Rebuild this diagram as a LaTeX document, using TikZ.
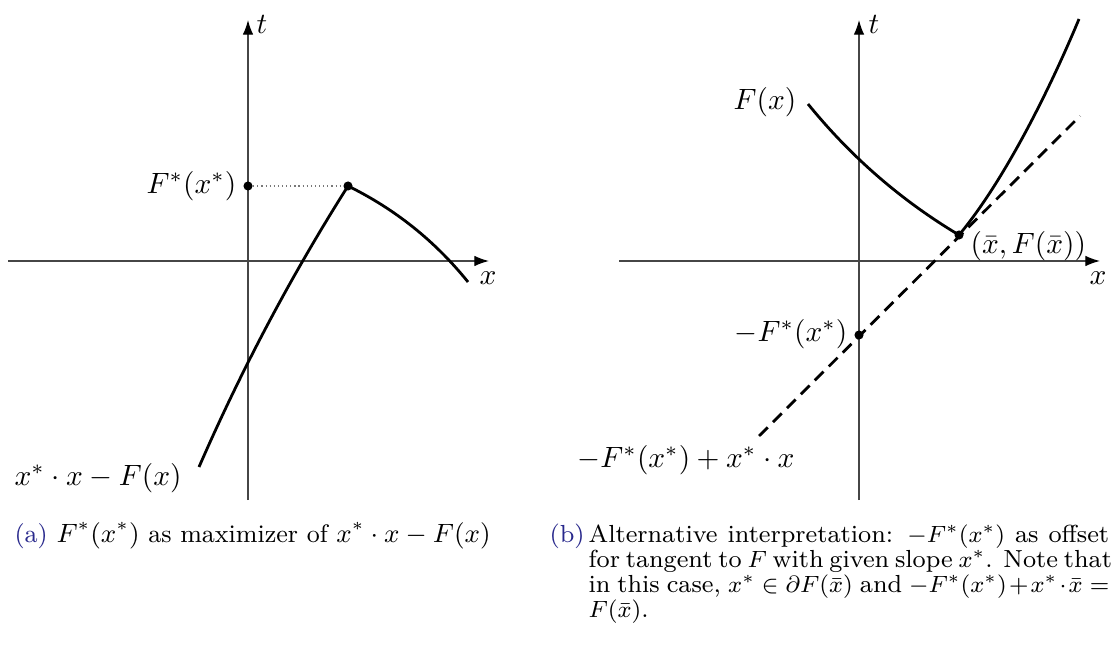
\documentclass[tikz,border=0pt]{standalone}
\usetikzlibrary{arrows.meta}
\definecolor{capblue}{RGB}{40,40,140}
\definecolor{axisgray}{RGB}{70,70,70}
\definecolor{dotgray}{RGB}{120,120,120}
\newcommand{\capline}[1]{\makebox[177pt][s]{#1}}
\begin{document}
\begin{tikzpicture}[x=0.34pt,y=-0.34pt,
  axis/.style={draw=axisgray,line width=0.45pt,-{Latex[length=5pt,width=3.6pt,color=black]}},
  curve/.style={draw=black,line width=0.95pt},
  tangent/.style={draw=black,line width=0.95pt,dash pattern=on 4.2pt off 2.5pt},
  helper/.style={draw=dotgray,line width=0.4pt,dash pattern=on 0.4pt off 1pt},
  dotnode/.style={circle,fill=black,inner sep=0pt,minimum size=3.1pt},
  lbl/.style={inner sep=0pt,font=\fontsize{10}{12}\selectfont},
  captext/.style={inner sep=0pt,anchor=base west,font=\fontsize{8.4}{10}\selectfont},
]
\useasboundingbox (0,0) rectangle (1119,657);

% ---------- panel (a) ----------
\coordinate (aB) at (248,500);
\coordinate (aT) at (248,20);
\coordinate (aL) at (8,261);
\coordinate (aR) at (489,261);
\draw[axis] (aL) -- (aR);
\draw[axis] (aB) -- (aT);
\node[lbl] (at) at (262,24) {$t$};
\node[lbl] (ax) at (488,278) {$x$};

\coordinate (aStart) at (199,467);
\coordinate (aEnd) at (468,282);
\node[dotnode] (aPeak) at (348,186) {};
\node[dotnode] (aFs) at (248,186) {};
\draw[helper] (aFs) -- (aPeak);
\draw[curve] (aStart) .. controls (241.5,369.5) and (291.1,275.9) .. (aPeak.center)
             .. controls (395.1,209.1) and (435.1,241.1) .. (aEnd);
\node[lbl,anchor=east] (aFsl) at (237,186) {$F^*(x^*)$};
\node[lbl,anchor=west] (acl) at (14,478) {$x^*\cdot x - F(x)$};

% ---------- panel (b) ----------
\coordinate (bB) at (859,500);
\coordinate (bT) at (859,20);
\coordinate (bL) at (619,261);
\coordinate (bR) at (1100,261);
\draw[axis] (bL) -- (bR);
\draw[axis] (bB) -- (bT);
\node[lbl] (bt) at (874,24) {$t$};
\node[lbl] (bx) at (1098,278) {$x$};

\coordinate (bFstart) at (808,104);
\coordinate (bFend) at (1079,19);
\coordinate (bDlow) at (759,436);
\coordinate (bDhigh) at (1080,116);
\node[dotnode] (bTan) at (959,235) {};
\node[dotnode] (bOff) at (859,335) {};
\draw[tangent] (bDlow) -- (bDhigh);
\draw[curve] (bFstart) .. controls (851.1,157.1) and (901.5,200.7) .. (bTan.center)
             .. controls (1004,181) and (1049,91) .. (bFend);
\node[lbl,anchor=east] (bFl) at (797,102) {$F(x)$};
\node[lbl,anchor=east] (bOffl) at (848,334) {$-F^*(x^*)$};
\node[lbl,anchor=west] (bTanl) at (970,246) {$(\bar{x},F(\bar{x}))$};
\node[lbl,anchor=west] (bDl) at (577,460) {$-F^*(x^*)+x^*\cdot x$};

% ---------- captions ----------
\node[captext,font=\fontsize{8.6}{10}\selectfont] (capa) at (14,542) {\textcolor{capblue}{(a)} $F^*(x^*)$ as maximizer of $x^*\cdot x - F(x)$};
\node[captext] (capbl) at (549,542) {\textcolor{capblue}{(b)}};
\node[captext] (capb1) at (588,542) {\capline{Alternative interpretation: $-F^*(x^*)$ as offset}};
\node[captext] (capb2) at (588,567) {\capline{for tangent to $F$ with given slope $x^*$. Note that}};
\node[captext] (capb3) at (588,592) {\capline{in this case, $x^*\in\partial F(\bar{x})$ and $-F^*(x^*)+x^*\cdot\bar{x}=$}};
\node[captext] (capb4) at (588,617) {$F(\bar{x})$.};
\end{tikzpicture}
\end{document}
